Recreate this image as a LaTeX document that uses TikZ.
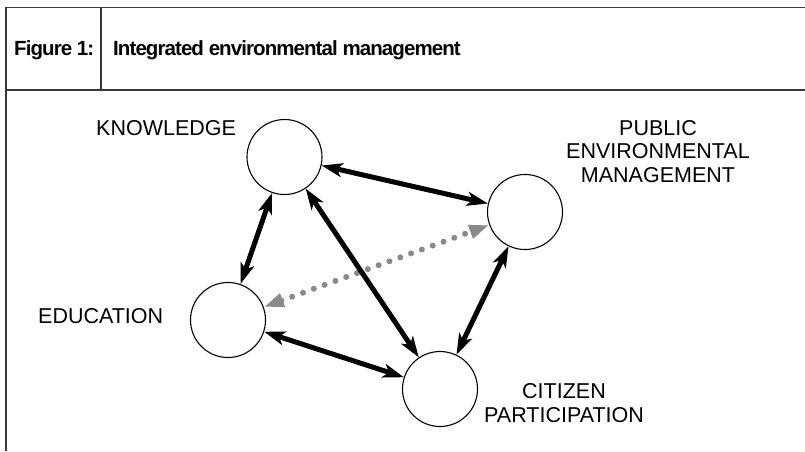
\documentclass[tikz,border=0pt]{standalone}
\usepackage{fontspec}
\setmainfont{Liberation Sans}
\usetikzlibrary{arrows.meta}
\definecolor{framegray}{HTML}{3A3A3A}
\definecolor{dotgray}{HTML}{8A8A8A}
\begin{document}
\begin{tikzpicture}[x=1pt,y=-1pt,
  frame/.style={draw=framegray,line width=1.5pt},
  hub/.style={circle,draw=black,line width=1.1pt,minimum size=75pt,inner sep=0pt},
  lbl/.style={font=\fontsize{21.5}{23.5}\selectfont,inner sep=0pt},
  ttl/.style={font=\fontsize{20.5}{22}\selectfont\bfseries\addfontfeature{LetterSpace=-4.5},inner sep=0pt,anchor=base west},
  link/.style={line width=5pt,{Stealth[length=21pt,width=14pt,inset=5.5pt]}-{Stealth[length=21pt,width=14pt,inset=5.5pt]}},
  weak/.style={draw=dotgray,line width=6pt,line cap=round,dash pattern=on 0pt off 11.5pt,
    {Triangle[length=20pt,width=13pt,line cap=butt]}-{Triangle[length=20pt,width=13pt,line cap=butt]}}
]
\useasboundingbox (0,0) rectangle (805,451);
% frame
\coordinate (tl) at (6,7.5);
\coordinate (tr) at (805,7.5);
\coordinate (bl) at (6,451);
\coordinate (hl) at (6,90);
\coordinate (hr) at (805,90);
\coordinate (dt) at (101,7.5);
\coordinate (db) at (101,90);
\draw[frame] (tr) -- (tl) -- (bl);
\draw[frame] (hl) -- (hr);
\draw[frame] (dt) -- (db);
% title
\node[ttl] (fig) at (14,55) {Figure 1:};
\node[ttl] (title) at (113,55) {Integrated environmental management};
% circles
\node[hub] (K) at (284.5,157) {};
\node[hub] (P) at (525,212) {};
\node[hub] (E) at (228,320) {};
\node[hub] (C) at (440,389) {};
% labels
\node[lbl,anchor=base west] (Kl) at (96,135) {KNOWLEDGE};
\node[lbl,anchor=base west] (El) at (38,323) {EDUCATION};
\node[lbl,anchor=base,align=center] (Pl) at (658,182) {PUBLIC\\ENVIRONMENTAL\\MANAGEMENT};
\node[lbl,anchor=base,align=center] (Cl) at (564,422) {CITIZEN\\PARTICIPATION};
% connectors
\draw[weak] (E) -- (P);
\draw[link] (K) -- (P);
\draw[link] (K) -- (E);
\draw[link] (K) -- (C);
\draw[link] (P) -- (C);
\draw[link] (E) -- (C);
\end{tikzpicture}
\end{document}
